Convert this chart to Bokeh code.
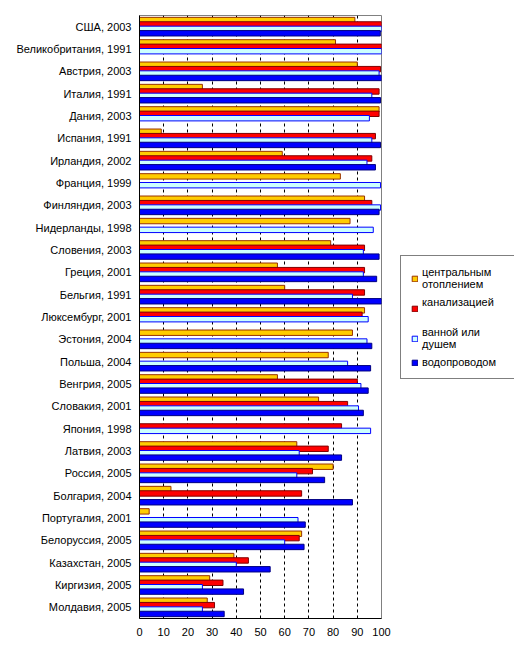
from bokeh.plotting import figure
from bokeh.models import ColumnDataSource, FactorRange, Legend, LegendItem, FixedTicker, Range1d
from bokeh.layouts import row
from bokeh.transform import dodge
from bokeh.embed import file_html
from bokeh.resources import INLINE

countries = ["США, 2003", "Великобритания, 1991", "Австрия, 2003", "Италия, 1991",
             "Дания, 2003", "Испания, 1991", "Ирландия, 2002", "Франция, 1999",
             "Финляндия, 2003", "Нидерланды, 1998", "Словения, 2003", "Греция, 2001",
             "Бельгия, 1991", "Люксембург, 2001", "Эстония, 2004", "Польша, 2004",
             "Венгрия, 2005", "Словакия, 2001", "Япония, 1998", "Латвия, 2003",
             "Россия, 2005", "Болгария, 2004", "Португалия, 2001", "Белоруссия, 2005",
             "Казахстан, 2005", "Киргизия, 2005", "Молдавия, 2005"]

heating = [89, 81, 90, 26, 99, 9, 59, 83, 93, 87, 79, 57, 60, 93, 88, 78,
           57, 74, None, 65, 80, 13, 4, 67, 39, 29, 28]
sewer = [100, 100, 99.6, 99, 99, 97.5, 96, None, 96, None, 93, 93, 93, 92, None, None,
         90, 86, 83.5, 78, 71.5, 67, None, 66, 45, 34.5, 31]
bath = [100, 100, 99, 96, 95, 96, 94, 99.6, 99.6, 96.6, 92.5, 92.5, 88, 94.5, 94, 86,
        91.5, 90.5, 95.5, 66, 65, None, 65.5, 60, 40, 26, 26]
water = [99.5, None, 100, 99.6, None, 99.6, 97.5, None, 99, None, 99, 98, 100, None, 96, 95.5,
         94.5, 92.5, None, 83.5, 76.5, 88, 68.5, 68, 54, 43, 35]

x_ticks = [0, 10, 20, 30, 40, 50, 60, 70, 80, 90, 100]

series = [
    ("центральным\nотоплением", heating, "#FFCC00", "#993300", 0.296),
    ("канализацией\n ", sewer, "#FF0000", "#800000", 0.0985),
    ("ванной или\nдушем", bath, "#CCFFFF", "#0000FF", -0.0985),
    ("водопроводом", water, "#0000FF", "#000080", -0.296),
]

FONT = "Liberation Sans"

p = figure(y_range=FactorRange(factors=countries[::-1], range_padding=0),
           x_range=(0, 100), width=391, height=661,
           min_border_left=139, min_border_right=10, min_border_top=15, min_border_bottom=43,
           output_backend="svg", toolbar_location=None)

# legend-only canvas to the right of the chart; its bars fall outside its x range
pl = figure(width=123, height=661, x_range=Range1d(-300, -200), y_range=p.y_range,
            min_border=0, x_axis_location=None, y_axis_location=None,
            output_backend="svg", toolbar_location=None)
pl.grid.visible = False
pl.outline_line_color = None

items = []
for label, vals, fill, line, off in series:
    src = ColumnDataSource(dict(
        c=[c for c, v in zip(countries, vals) if v is not None],
        v=[v for v in vals if v is not None]))
    style = dict(fill_color=fill, line_color=line, line_width=1)
    p.hbar(y=dodge("c", off, range=p.y_range), right="v", left=0, height=0.242,
           source=src, **style)
    proxy = pl.hbar(y=dodge("c", off, range=pl.y_range), right="v", left=0, height=0.242,
                    source=src, **style)
    items.append(LegendItem(label=label, renderers=[proxy]))

legend = Legend(items=items, location=(9, 239), margin=0, padding=10,
                glyph_width=7, glyph_height=7, label_standoff=4, spacing=6,
                label_width=83,
                label_text_font=FONT, label_text_font_size="11px",
                label_text_color="black",
                border_line_color="black", border_line_width=1,
                background_fill_color="white", background_fill_alpha=1)
pl.add_layout(legend)

xa = p.xaxis[0]
xa.ticker = FixedTicker(ticks=x_ticks)
xa.major_tick_line_color = None
xa.minor_tick_line_color = None
xa.major_tick_out = 0
xa.major_tick_in = 0
xa.major_label_standoff = 9
xa.axis_line_color = "black"
ya = p.yaxis[0]
ya.major_tick_line_color = None
ya.minor_tick_line_color = None
ya.major_tick_out = 0
ya.major_tick_in = 0
ya.major_label_standoff = 8
ya.axis_line_color = "black"
for ax in (xa, ya):
    ax.major_label_text_font = FONT
    ax.major_label_text_font_size = "11px"
    ax.major_label_text_color = "black"

p.ygrid.grid_line_color = None
p.xgrid.ticker = FixedTicker(ticks=x_ticks[1:-1])
p.xgrid.grid_line_color = "black"
p.xgrid.grid_line_dash = "3 3"
p.outline_line_color = "#808080"
p.background_fill_color = "white"
p.border_fill_color = "white"

layout = row(p, pl, spacing=0)
open("out.html", "w").write(file_html(layout, INLINE))
